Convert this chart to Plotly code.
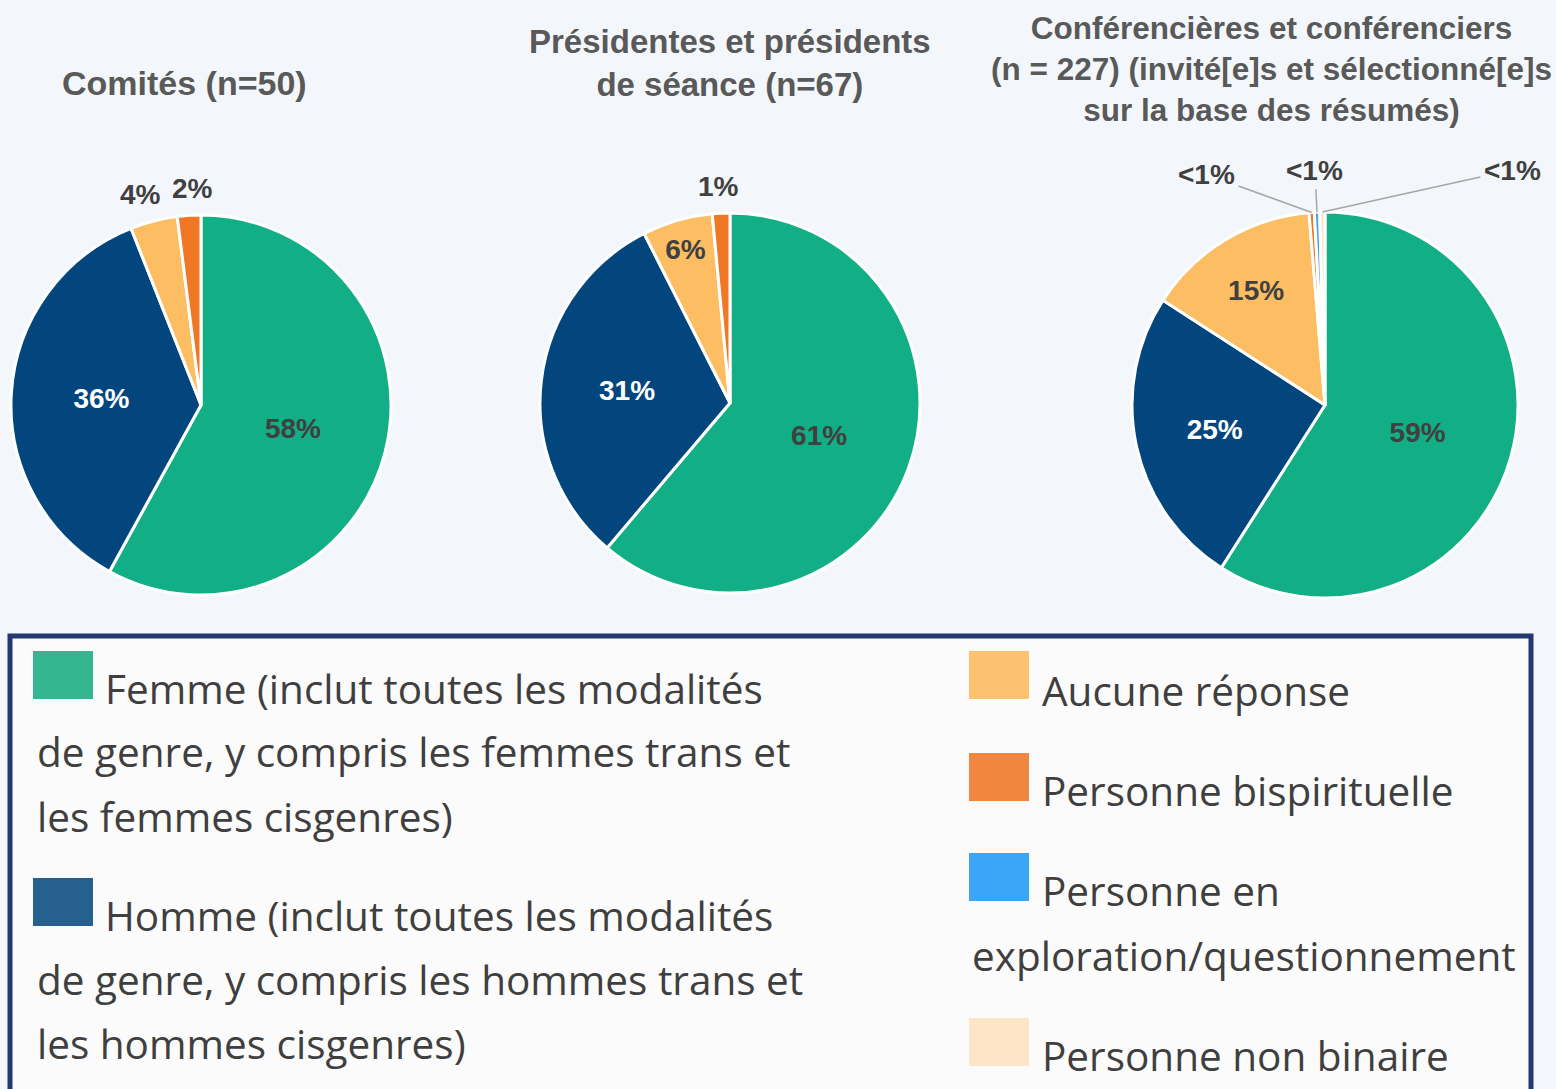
import math
import plotly.graph_objects as go

# ---------------- data ----------------
categories = [
    "Femme (inclut toutes les modalités de genre, y compris les femmes trans et les femmes cisgenres)",
    "Homme (inclut toutes les modalités de genre, y compris les hommes trans et les hommes cisgenres)",
    "Aucune réponse",
    "Personne bispirituelle",
    "Personne en exploration/questionnement",
    "Personne non binaire",
]
legend_lines = [
    ["Femme (inclut toutes les modalités", "de genre, y compris les femmes trans et", "les femmes cisgenres)"],
    ["Homme (inclut toutes les modalités", "de genre, y compris les hommes trans et", "les hommes cisgenres)"],
    ["Aucune réponse"],
    ["Personne bispirituelle"],
    ["Personne en", "exploration/questionnement"],
    ["Personne non binaire"],
]
comites = [29, 18, 2, 1, 0, 0]          # n = 50
presidents = [41, 21, 4, 1, 0, 0]       # n = 67
conferenciers = [134, 57, 33, 1, 1, 1]  # n = 227
titles = [
    "Comités (n=50)",
    "Présidentes et présidents<br>de séance (n=67)",
    "Conférencières et conférenciers<br>(n = 227) (invité[e]s et sélectionné[e]s<br>sur la base des résumés)",
]

pie_colors = ["#12ae85", "#03467d", "#fdbd62", "#f07724", "#3aa4f7", "#fde3c3"]
legend_colors = ["#34b690", "#26608f", "#fdc26f", "#f0863f", "#3ba5f8", "#fde5c7"]
inside_text_colors = ["#404040", "#ffffff", "#404040", "#404040", "#404040", "#404040"]

# ---------------- layout geometry (pixels) ----------------
W, H = 1556, 1089
def px(x):
    return x / W
def py(y):
    return 1 - y / H

pie_geom = [(201, 405, 190), (730, 403, 190), (1325, 405, 193)]
title_geom = [(184, 83, 34), (730, 63, 33), (1271, 69, 31.5)]
# "inside" -> drawn by the pie itself, "outside" -> label just outside the rim,
# "leader" -> label with a leader line
label_mode = [
    ["inside", "inside", "outside", "outside"],
    ["inside", "inside", "inside", "outside"],
    ["inside", "inside", "inside", "leader", "leader", "leader"],
]
outside_nudge = [[0, 0, -7, 5], [0, 0, 0, -1], [0] * 6]
leader_offsets = [(-105, -38), (-2, -42), (190, -42)]

FONT = "Liberation Sans, Arial, sans-serif"
TXT = "#404040"
PCT_SIZE = 28

fig = go.Figure()
annotations = []
shapes = []

series = [comites, presidents, conferenciers]
for i, vals in enumerate(series):
    idx = [k for k, v in enumerate(vals) if v > 0]
    v = [vals[k] for k in idx]
    total = sum(v)
    labels_txt = []
    for val in v:
        p = 100 * val / total
        labels_txt.append("<1%" if p < 1 else f"{round(p):d}%")
    modes = label_mode[i]
    cx, cy, r = pie_geom[i]
    fig.add_trace(go.Pie(
        labels=[categories[k] for k in idx],
        values=v,
        text=[t if m == "inside" else "" for t, m in zip(labels_txt, modes)],
        textinfo="text",
        textposition=["inside" if m == "inside" else "none" for m in modes],
        insidetextorientation="horizontal",
        insidetextfont=dict(family=FONT, size=PCT_SIZE, color=[inside_text_colors[k] for k in idx], weight="bold"),
        marker=dict(colors=[pie_colors[k] for k in idx], line=dict(color="white", width=3)),
        sort=False,
        direction="clockwise",
        rotation=0,
        showlegend=False,
        hoverinfo="label+percent",
        domain=dict(x=[px(cx - r), px(cx + r)], y=[py(cy + r), py(cy - r)]),
    ))
    # title
    tx, ty, ts = title_geom[i]
    annotations.append(dict(
        x=px(tx), y=py(ty), xref="paper", yref="paper", text=titles[i],
        showarrow=False, xanchor="center", yanchor="middle",
        font=dict(family=FONT, size=ts, color="#595959", weight="bold"),
    ))
    # labels of the small slices, placed from the slice mid-angle
    cum = 0
    j = 0
    for s, (val, lab, m) in enumerate(zip(v, labels_txt, modes)):
        mid = (cum + val / 2) / total
        cum += val
        ang = 2 * math.pi * mid
        if m == "outside":
            R = r + 27
            annotations.append(dict(
                x=px(cx + R * math.sin(ang)), y=py(cy - R * math.cos(ang)),
                xref="paper", yref="paper", text=lab, showarrow=False,
                xanchor="center", yanchor="middle", xshift=outside_nudge[i][s],
                font=dict(family=FONT, size=PCT_SIZE, color=TXT, weight="bold"),
            ))
        elif m == "leader":
            ex = cx + r * math.sin(ang)
            ey = cy - r * math.cos(ang)
            ox, oy = leader_offsets[j]
            j += 1
            annotations.append(dict(
                x=px(ex), y=py(ey), xref="paper", yref="paper", text=lab,
                showarrow=True, arrowhead=0, arrowwidth=1.5, arrowcolor="#a6a6a6",
                ax=ox, ay=oy, standoff=0, startstandoff=2,
                font=dict(family=FONT, size=PCT_SIZE, color=TXT, weight="bold"),
            ))

# ---------------- legend box ----------------
shapes.append(dict(type="rect", xref="paper", yref="paper",
                   x0=px(10), x1=px(1531), y0=py(1120), y1=py(636),
                   line=dict(color="#24376f", width=5), fillcolor="#fbfbfb", layer="below"))

LFONT = "Open Sans, Noto Sans, sans-serif"
LSIZE = 40.5
LCOL = "#3f3f3f"
# (swatch x, swatch top y, first-line y, text x first line, text x other lines, line step)
leg_geom = [
    (33, 651, 688, 103, 35, 64),
    (33, 878, 915, 103, 35, 64),
    (969, 651, 690, 1040, 970, 65),
    (969, 753, 790, 1040, 970, 65),
    (969, 853, 890, 1040, 970, 65),
    (969, 1018, 1055, 1040, 970, 65),
]
for k, lines in enumerate(legend_lines):
    sx, sy, ly, tx1, tx2, step = leg_geom[k]
    shapes.append(dict(type="rect", xref="paper", yref="paper",
                       x0=px(sx), x1=px(sx + 60), y0=py(sy + 48), y1=py(sy),
                       line=dict(width=0), fillcolor=legend_colors[k]))
    for n, line in enumerate(lines):
        annotations.append(dict(
            x=px(tx1 if n == 0 else tx2), y=py(ly + n * step), xref="paper", yref="paper",
            text=line, showarrow=False, xanchor="left", yanchor="middle",
            font=dict(family=LFONT, size=LSIZE, color=LCOL),
        ))

fig.update_layout(
    width=W, height=H,
    margin=dict(l=0, r=0, t=0, b=0),
    paper_bgcolor="#f3f7fb",
    plot_bgcolor="#f3f7fb",
    annotations=annotations,
    shapes=shapes,
)

fig.write_html("out.html",
               config={"displayModeBar": False},
               post_script="document.body.style.margin='0px';document.body.style.overflow='hidden';")
